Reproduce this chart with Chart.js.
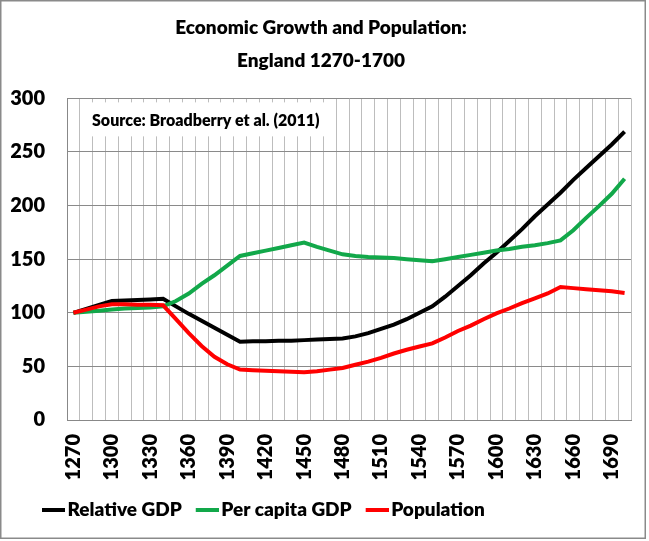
<!DOCTYPE html>
<html><head><meta charset="utf-8">
<script src="https://cdn.jsdelivr.net/npm/chart.js@4"></script>
<style>html,body{margin:0;padding:0;background:#fff;}</style>
</head><body>
<canvas id="c" width="649" height="541"></canvas>
<script>
const years = ['1270','1280','1290','1300','1310','1320','1330','1340','1350','1360','1370','1380','1390','1400','1410','1420','1430','1440','1450','1460','1470','1480','1490','1500','1510','1520','1530','1540','1550','1560','1570','1580','1590','1600','1610','1620','1630','1640','1650','1660','1670','1680','1690','1700'];
const relativeGDP = [100,103.7,107.3,111,111.5,112,112.5,113,106,99,92.5,86,79.5,73,73.5,73.5,74,74,74.5,75,75.5,76,78,81,85,89,94,100,106,115,125,135,146,156,167,178,190,201,212,224,235,246,257,269];
const perCapitaGDP = [100,101,102,103,104,104.5,105,106,111,118,127,135,144,153,155.5,158,160.5,163,165.5,161.5,158,154.5,153,152,151.5,151,150,149,148,150,152,154,156,158,159.5,161.5,163,165,167.5,177,188.5,199.5,211,225];
const population = [100,103,106,108,108,107.5,107.5,107,94,81,69,59,52,47,46.5,46,45.5,45,44.5,45.5,47,48.5,51.5,54.5,58,62,65.5,68.5,71.5,77,83,88,94,99.5,104,109,113.5,118,124,123,122,121,120,118.5];
const tickYears = ['1270','1300','1330','1360','1390','1420','1450','1480','1510','1540','1570','1600','1630','1660','1690'];
const yTicks = [0,50,100,150,200,250,300];
const seriesNames = ['Relative GDP','Per capita GDP','Population'];
const seriesColors = ['#000000','#12A84A','#FF0000'];
const titleLines = ['Economic Growth and Population:','England 1270-1700'];
const sourceNote = 'Source: Broadberry et al. (2011)';

const FONT = 'Lato';
const WEIGHT = '800';

// legend marker: a short thick line drawn in the right part of a small canvas
function legendLine(color) {
  const c = document.createElement('canvas');
  c.width = 30; c.height = 4;
  const g = c.getContext('2d');
  g.fillStyle = color;
  g.fillRect(7, 0, 23, 4);
  return c;
}

const framePlugin = {
  id: 'frame',
  beforeDraw(chart) {
    const ctx = chart.ctx;
    ctx.save();
    ctx.fillStyle = '#fff';
    ctx.fillRect(0, 0, chart.width, chart.height);
    ctx.strokeStyle = '#8a8a8a';
    ctx.lineWidth = 1.5;
    ctx.strokeRect(0.75, 0.75, 644.5, 537.5);
    ctx.restore();
  }
};

const sourcePlugin = {
  id: 'sourceBox',
  beforeDatasetsDraw(chart) {
    const {ctx, chartArea: a} = chart;
    ctx.save();
    ctx.font = WEIGHT + ' 16px ' + FONT;
    const w = ctx.measureText(sourceNote).width;
    const x = a.left + 16, y = a.top + 4, pad = 9;
    ctx.fillStyle = '#fff';
    ctx.fillRect(x, y, w + 2 * pad, 34);
    ctx.fillStyle = '#000';
    ctx.textBaseline = 'middle';
    ctx.fillText(sourceNote, x + pad, y + 18);
    ctx.restore();
  }
};

const legendShift = {
  id: 'legendShift',
  afterLayout(chart) { chart.legend.left += 17; }
};

const seriesData = [relativeGDP, perCapitaGDP, population];

new Chart(document.getElementById('c'), {
  type: 'line',
  data: {
    labels: years,
    datasets: seriesData.map((d, i) => ({
      label: seriesNames[i],
      data: d,
      borderColor: seriesColors[i],
      backgroundColor: seriesColors[i],
      borderWidth: 4,
      pointRadius: 0,
      pointStyle: legendLine(seriesColors[i]),
      tension: 0,
      fill: false,
      order: 3 - i
    }))
  },
  options: {
    responsive: false,
    devicePixelRatio: 1,
    animation: false,
    layout: { padding: { left: 11, right: 18, top: 0, bottom: 12 } },
    plugins: {
      tooltip: { enabled: false },
      title: {
        display: true,
        text: titleLines,
        color: '#000',
        font: { family: FONT, size: 19, weight: WEIGHT, lineHeight: 1.72 },
        padding: { top: 12, bottom: 21 }
      },
      legend: {
        position: 'bottom',
        align: 'start',
        labels: {
          usePointStyle: true,
          pointStyleWidth: 16,
          padding: 14,
          color: '#000',
          font: { family: FONT, size: 19, weight: WEIGHT },
          sort: (a, b) => a.datasetIndex - b.datasetIndex
        }
      }
    },
    scales: {
      x: {
        type: 'category',
        offset: true,
        grid: { offset: true, color: '#bdbdbd', drawTicks: false },
        border: { color: '#888', width: 1 },
        ticks: {
          autoSkip: false,
          minRotation: 90,
          maxRotation: 90,
          padding: 14,
          color: '#000',
          font: { family: FONT, size: 20, weight: WEIGHT },
          callback(v) { const lab = this.getLabelForValue(v); return tickYears.includes(lab) ? lab : ''; }
        },
        afterFit(scale) { scale.height = 66; scale.paddingLeft = 0; scale.paddingRight = 0; }
      },
      y: {
        min: 0,
        max: 300,
        afterBuildTicks(scale) { scale.ticks = yTicks.map(v => ({ value: v })); },
        afterFit(scale) { scale.width = 56; },
        grid: { color: '#8a8a8a', drawTicks: false },
        border: { color: '#888', width: 1 },
        ticks: {
          padding: 22,
          color: '#000',
          font: { family: FONT, size: 20, weight: WEIGHT }
        }
      }
    }
  },
  plugins: [framePlugin, sourcePlugin, legendShift]
});
</script>
</body></html>
